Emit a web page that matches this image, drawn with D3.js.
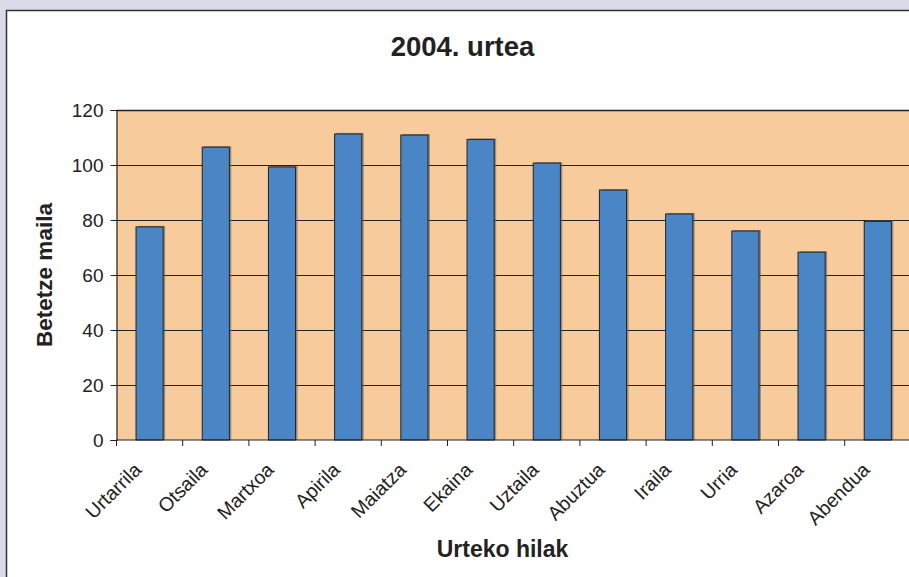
<!DOCTYPE html>
<html>
<head>
<meta charset="utf-8">
<script src="https://cdn.jsdelivr.net/npm/d3@7"></script>
<style>
  body { margin: 0; background: #d9dbe8; }
  svg { display: block; font-family: "Liberation Sans", Arial, sans-serif; }
</style>
</head>
<body>
<div id="chart"></div>
<script>
// chart data
var months = ["Urtarrila", "Otsaila", "Martxoa", "Apirila", "Maiatza", "Ekaina",
              "Uztaila", "Abuztua", "Iraila", "Urria", "Azaroa", "Abendua"];
var values = [77.5, 106.5, 99.3, 111.3, 110.9, 109.3, 100.7, 90.9, 82.2, 76, 68.3, 79.5];
var yTicks = [0, 20, 40, 60, 80, 100, 120];

var W = 909, H = 577;
var margin = {top: 110, left: 116.5, bottom: 137},
    width = 794.4,
    height = H - margin.top - margin.bottom;

var svg = d3.select("#chart").append("svg")
    .attr("width", W).attr("height", H);

// white panel with border
svg.append("rect")
  .attr("x", 6.5).attr("y", 10.5)
  .attr("width", W + 10).attr("height", H + 10)
  .attr("fill", "#fff").attr("stroke", "#333").attr("stroke-width", 1.5);

svg.append("text")
  .attr("x", 462.5).attr("y", 56)
  .attr("text-anchor", "middle")
  .attr("font-size", 27.5).attr("font-weight", "bold").attr("fill", "#222")
  .text("2004. urtea");

var g = svg.append("g")
  .attr("transform", "translate(" + margin.left + "," + margin.top + ")");

var x = d3.scaleBand().domain(months).range([0, width]).paddingInner(0.59).paddingOuter(0.295);
var xb = d3.scaleBand().domain(months).range([0, width]);
var y = d3.scaleLinear().domain([0, 120]).range([height, 0]);

// plot background
g.append("rect")
  .attr("width", width).attr("height", height)
  .attr("fill", "#f7cb9b");

// gridlines
g.selectAll(".grid").data(yTicks.slice(1))
  .enter().append("line")
  .attr("x1", 0).attr("x2", width)
  .attr("y1", d => Math.round(y(d)) + 0.5).attr("y2", d => Math.round(y(d)) + 0.5)
  .attr("stroke", "#222").attr("stroke-width", d => d == 120 ? 1.5 : 1);

// bar shadows
g.selectAll(".shadow").data(values)
  .enter().append("rect")
  .attr("x", (d, i) => x(months[i]) + 2)
  .attr("y", d => y(d) - 1)
  .attr("width", x.bandwidth())
  .attr("height", d => height - y(d) + 1)
  .attr("fill", "#666").attr("opacity", 0.6);

// bars
g.selectAll(".bar").data(values)
  .enter().append("rect")
  .attr("x", (d, i) => x(months[i]))
  .attr("y", d => y(d))
  .attr("width", x.bandwidth())
  .attr("height", d => height - y(d))
  .attr("fill", "#4a86c5").attr("stroke", "#222").attr("stroke-width", 1);

// y axis
var yAxis = g.append("g")
  .call(d3.axisLeft(y).tickValues(yTicks).tickSize(6).tickPadding(7));
yAxis.select(".domain").attr("stroke", "#222").attr("stroke-width", 1.2);
yAxis.selectAll(".tick line").attr("stroke", "#222");
yAxis.selectAll("text").attr("font-size", 19).attr("fill", "#222")
  .attr("font-family", "Liberation Sans, Arial, sans-serif");

// x axis (ticks between categories)
var xAxis = g.append("g").attr("transform", "translate(0," + height + ")");
xAxis.append("line").attr("x1", 0).attr("x2", width).attr("stroke", "#222").attr("stroke-width", 1.2);
xAxis.selectAll(".xt").data(months)
  .enter().append("line")
  .attr("x1", d => xb(d)).attr("x2", d => xb(d))
  .attr("y1", 0).attr("y2", 6).attr("stroke", "#222");
xAxis.selectAll(".xl").data(months)
  .enter().append("text")
  .attr("transform", d => "translate(" + (xb(d) + xb.bandwidth() / 2 - 7) + ",31) rotate(-45)")
  .attr("text-anchor", "end")
  .attr("font-size", 19.5).attr("fill", "#222")
  .text(d => d);

// axis titles
svg.append("text")
  .attr("transform", "translate(51.5,275) rotate(-90)")
  .attr("text-anchor", "middle")
  .attr("font-size", 22.5).attr("font-weight", "bold").attr("fill", "#222")
  .text("Betetze maila");

svg.append("text")
  .attr("x", 502.5).attr("y", 557)
  .attr("text-anchor", "middle")
  .attr("font-size", 23).attr("font-weight", "bold").attr("fill", "#222")
  .text("Urteko hilak");
</script>
</body>
</html>
